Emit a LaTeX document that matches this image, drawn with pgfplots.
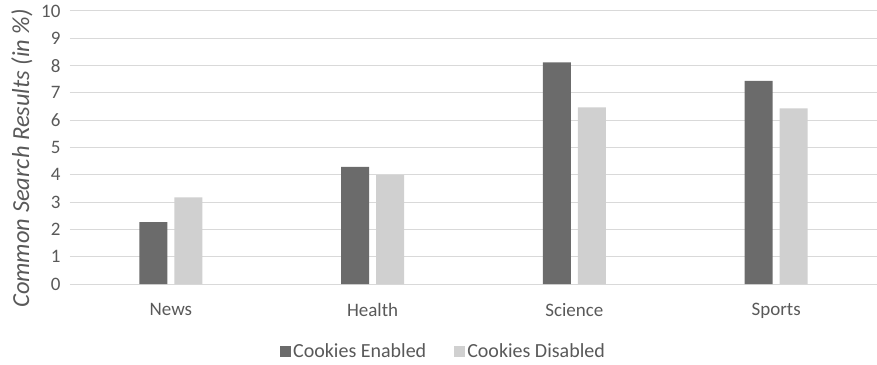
\documentclass[border=0pt]{standalone}
\usepackage{pgfplots}
\pgfplotsset{compat=1.18}
\usepackage{fontspec}
\setmainfont{Carlito}
\definecolor{enab}{HTML}{6B6B6B}
\definecolor{disab}{HTML}{D0D0D0}
\definecolor{gridc}{HTML}{D9D9D9}
\definecolor{txt}{HTML}{595959}
\begin{document}
\begin{tikzpicture}[x=1pt,y=1pt]
\begin{axis}[
  at={(0,0)}, anchor=south west,
  scale only axis,
  width=807pt, height=273pt,
  xmin=-0.5, xmax=3.5, ymin=0, ymax=10,
  ybar=7pt, bar width=28pt,
  xtick={0,1,2,3},
  xticklabels={News,Health,Science,Sports},
  ytick={0,1,...,10},
  ymajorgrids, grid style={gridc, line width=1pt},
  axis line style={draw=none},
  major tick length=0pt,
  tick label style={font=\fontsize{19}{22}\selectfont, text=txt},
  /pgf/number format/assume math mode=true,
  xticklabel style={yshift=-16pt},
  yticklabel style={xshift=-6pt},
  ylabel={\itshape Common Search Results (in \%)},
  ylabel style={font=\fontsize{24.5}{28}\selectfont, text=txt,
    at={(axis description cs:-0.0595,0.46)}, anchor=center},
  legend style={at={(0.5,0)}, anchor=center, yshift=-67pt, xshift=-30pt, draw=none, legend columns=2,
    font=\fontsize{20}{23}\selectfont, text=txt,
    /tikz/every even column/.append style={column sep=26pt}},
  legend image code/.code={\fill[#1] (0pt,-5.5pt) rectangle (11pt,5.5pt);},
]
\addplot[fill=enab, draw=none] coordinates {(0,2.27) (1,4.29) (2,8.12) (3,7.44)};
\addplot[fill=disab, draw=none] coordinates {(0,3.17) (1,3.99) (2,6.47) (3,6.43)};
\legend{Cookies Enabled, Cookies Disabled}
\end{axis}
\pgfresetboundingbox
\path[use as bounding box] (-70,-80) rectangle (807,284);
\end{tikzpicture}
\end{document}
